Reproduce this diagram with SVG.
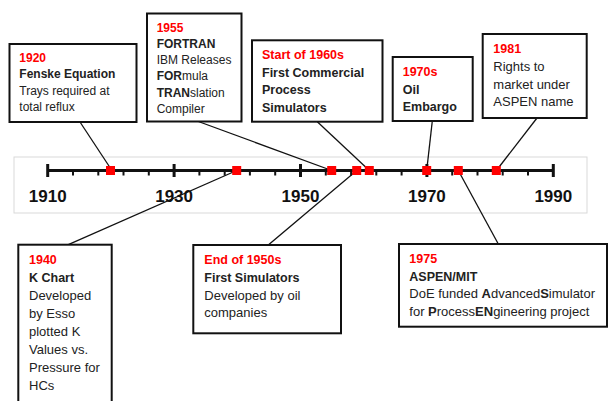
<svg xmlns="http://www.w3.org/2000/svg" width="608" height="401" viewBox="0 0 608 401">
<style>
text{font-family:"Liberation Sans",Arial,sans-serif;font-size:13px;fill:#222}
.s{font-size:12px}
.yr{fill:#ff0000;font-weight:bold;font-size:12.5px}
.b{font-weight:bold;font-size:12.5px}
.s.yr,.s.b,.s .b{font-size:12px}
.ax{font-size:17px;font-weight:bold;fill:#111;text-anchor:middle}
.box{fill:#fff;stroke:#111;stroke-width:2}
.con line{stroke:#111;stroke-width:1.3}
.sq{fill:#ff0000}
.maj{stroke:#111;stroke-width:3}
.min{stroke:#111;stroke-width:2}
</style>
<rect x="14" y="157" width="573" height="56" fill="#fff" stroke="#d9d9d9" stroke-width="1"/>
<g id="axis">
<line x1="47.7" y1="170.5" x2="553.3" y2="170.5" stroke="#111" stroke-width="3"/>
<g class="maj">
<line x1="47.7" y1="164" x2="47.7" y2="177"/>
<line x1="174.1" y1="164" x2="174.1" y2="177"/>
<line x1="300.5" y1="164" x2="300.5" y2="177"/>
<line x1="426.9" y1="164" x2="426.9" y2="177"/>
<line x1="553.3" y1="164" x2="553.3" y2="177"/>
</g>
<g class="min">
<line x1="73" y1="170.5" x2="73" y2="175.5"/>
<line x1="98.3" y1="170.5" x2="98.3" y2="175.5"/>
<line x1="123.5" y1="170.5" x2="123.5" y2="175.5"/>
<line x1="148.8" y1="170.5" x2="148.8" y2="175.5"/>
<line x1="199.4" y1="170.5" x2="199.4" y2="175.5"/>
<line x1="224.7" y1="170.5" x2="224.7" y2="175.5"/>
<line x1="249.9" y1="170.5" x2="249.9" y2="175.5"/>
<line x1="275.2" y1="170.5" x2="275.2" y2="175.5"/>
<line x1="325.8" y1="170.5" x2="325.8" y2="175.5"/>
<line x1="351.1" y1="170.5" x2="351.1" y2="175.5"/>
<line x1="376.3" y1="170.5" x2="376.3" y2="175.5"/>
<line x1="401.6" y1="170.5" x2="401.6" y2="175.5"/>
<line x1="452.2" y1="170.5" x2="452.2" y2="175.5"/>
<line x1="477.5" y1="170.5" x2="477.5" y2="175.5"/>
<line x1="502.7" y1="170.5" x2="502.7" y2="175.5"/>
<line x1="528" y1="170.5" x2="528" y2="175.5"/>
</g>
<text class="ax" x="47.7" y="201.7">1910</text>
<text class="ax" x="174.1" y="201.7">1930</text>
<text class="ax" x="300.5" y="201.7">1950</text>
<text class="ax" x="426.9" y="201.7">1970</text>
<text class="ax" x="553.3" y="201.7">1990</text>
</g>
<g id="connectors" class="con">
<line x1="80" y1="122" x2="110.3" y2="168"/>
<line x1="197" y1="121" x2="331.7" y2="170.5"/>
<line x1="317.3" y1="121.7" x2="369.3" y2="170.5"/>
<line x1="432.3" y1="121" x2="426.7" y2="170.5"/>
<line x1="537" y1="118" x2="496.4" y2="170.5"/>
<line x1="68.3" y1="244.7" x2="236.7" y2="170.5"/>
<line x1="268.3" y1="245" x2="356.7" y2="170.5"/>
<line x1="498.3" y1="244" x2="458.3" y2="170.5"/>
</g>
<g id="markers">
<rect class="sq" x="106" y="166" width="9" height="9"/>
<rect class="sq" x="232.2" y="166" width="9" height="9"/>
<rect class="sq" x="327.2" y="166" width="9" height="9"/>
<rect class="sq" x="352.2" y="166" width="9" height="9"/>
<rect class="sq" x="364.8" y="166" width="9" height="9"/>
<rect class="sq" x="422.2" y="166" width="9" height="9"/>
<rect class="sq" x="453.8" y="166" width="9" height="9"/>
<rect class="sq" x="491.8" y="166" width="9" height="9"/>
</g>
<g id="n1920">
<rect class="box" x="9.5" y="44" width="127" height="78"/>
<text class="s yr" x="19.3" y="62">1920</text>
<text class="s b" x="19.3" y="78.3">Fenske Equation</text>
<text class="s" x="19.3" y="95">Trays required at</text>
<text class="s" x="19.3" y="111.3">total reflux</text>
</g>
<g id="n1955">
<rect class="box" x="147" y="13.5" width="94.5" height="108"/>
<text class="s yr" x="156.7" y="31.7">1955</text>
<text class="s b" x="156.7" y="47.9">FORTRAN</text>
<text class="s" x="156.7" y="64.2">IBM Releases</text>
<text class="s" x="156.7" y="80.4"><tspan class="b">FOR</tspan>mula</text>
<text class="s" x="156.7" y="96.6"><tspan class="b">TRAN</tspan>slation</text>
<text class="s" x="156.7" y="112.8">Compiler</text>
</g>
<g id="n1960s">
<rect class="box" x="252" y="40.3" width="130.5" height="81.4"/>
<text class="yr" x="262" y="59.3">Start of 1960s</text>
<text class="b" x="262" y="76.7">First Commercial</text>
<text class="b" x="262" y="94.2">Process</text>
<text class="b" x="262" y="111.6">Simulators</text>
</g>
<g id="n1970s">
<rect class="box" x="392.7" y="57" width="80" height="64"/>
<text class="yr" x="402.7" y="76.2">1970s</text>
<text class="b" x="402.7" y="93.7">Oil</text>
<text class="b" x="402.7" y="111.2">Embargo</text>
</g>
<g id="n1981">
<rect class="box" x="482.7" y="34" width="104" height="84"/>
<text class="yr" x="493.3" y="53.3">1981</text>
<text x="493.3" y="70.9">Rights to</text>
<text x="493.3" y="88.5">market under</text>
<text x="493.3" y="106.1">ASPEN name</text>
</g>
<g id="n1940">
<rect class="box" x="18.3" y="244.7" width="93.4" height="170"/>
<text class="yr" x="29" y="264.3">1940</text>
<text class="b" x="29" y="282.2">K Chart</text>
<text x="29" y="300.1">Developed</text>
<text x="29" y="318">by Esso</text>
<text x="29" y="335.9">plotted K</text>
<text x="29" y="353.8">Values vs.</text>
<text x="29" y="371.7">Pressure for</text>
<text x="29" y="389.6">HCs</text>
</g>
<g id="n1950s">
<rect class="box" x="193.3" y="245" width="147.7" height="88.3"/>
<text class="yr" x="204.3" y="264.3">End of 1950s</text>
<text class="b" x="204.3" y="282">First Simulators</text>
<text x="204.3" y="299.7">Developed by oil</text>
<text x="204.3" y="317.4">companies</text>
</g>
<g id="n1975">
<rect class="box" x="399" y="244" width="208" height="82.7"/>
<text class="yr" x="409.3" y="262.7">1975</text>
<text class="b" x="409.3" y="280.5">ASPEN/MIT</text>
<text x="409.3" y="298">DoE funded <tspan class="b" style="font-size:13px">A</tspan>dvanced<tspan class="b" style="font-size:13px">S</tspan>imulator</text>
<text x="409.3" y="315.5">for <tspan class="b" style="font-size:13px">P</tspan>rocess<tspan class="b" style="font-size:13px">EN</tspan>gineering project</text>
</g>
</svg>
